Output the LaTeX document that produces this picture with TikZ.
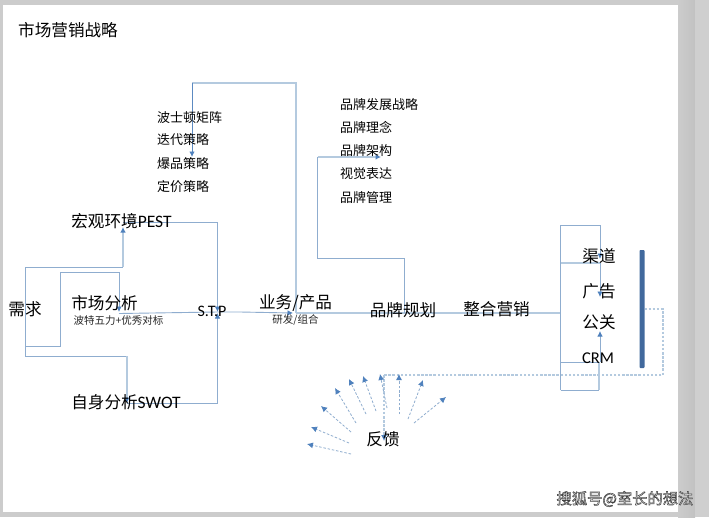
\documentclass[tikz,border=0pt]{standalone}
\usepackage{fontspec}
\setmainfont{Noto Sans CJK SC}
\newfontfamily\lat{Carlito}
\usetikzlibrary{arrows.meta}
\definecolor{ln}{HTML}{8FADCF}
\definecolor{lnl}{HTML}{B4CADF}
\definecolor{tip}{HTML}{4F81BD}
\definecolor{barc}{HTML}{41699D}
\tikzset{
 x=1pt,y=-1pt,
 big/.style={inner sep=0,anchor=center,font=\fontsize{16.6}{17}\selectfont,text=black},
 mid/.style={inner sep=0,anchor=west,font=\fontsize{13}{14}\selectfont,text=black},
 tiny/.style={inner sep=0,anchor=center,font=\fontsize{10.5}{11}\selectfont,text=black!85},
 conn/.style={draw=ln,line width=0.9pt},
 connl/.style={draw=lnl,line width=1.3pt},
 arr/.style={-{Latex[length=5.5pt,width=5.5pt,color=tip]}},
 dashline/.style={draw=lnl,line width=1.1pt,dash pattern=on 2.5pt off 1.6pt},
 fan/.style={draw=ln,line width=0.8pt,dash pattern=on 2.5pt off 1.8pt,-{Latex[length=6pt,width=6pt,color=tip]}},
}
\begin{document}
\begin{tikzpicture}
\useasboundingbox (0,0) rectangle (709,517);
\fill[black!20] (0,0) rectangle (709,517);
\shade[left color=black!20,right color=black!24] (678,0) rectangle (695,517);
\fill[black!19] (695,0) rectangle (709,517);
\fill[white] (3,5) rectangle (678,512);
% ports
\coordinate (nA) at (25,267); \coordinate (nB) at (25,346); \coordinate (nC) at (25,356);
\coordinate (pestIn) at (123,227); \coordinate (pestOut) at (123,222.5);
\coordinate (mktIn) at (119,312); \coordinate (mktOut) at (119,313.5);
\coordinate (swotIn) at (127,403); \coordinate (stpT) at (217.5,312); \coordinate (stpB) at (217.5,313);
\coordinate (bizL) at (293,313); \coordinate (bizU) at (296,313);
\coordinate (boston) at (192,157); \coordinate (brandU) at (404.5,313);
\coordinate (archi) at (381,157); \coordinate (boxL) at (560.5,313);
\coordinate (chanIn) at (600,259); \coordinate (adIn) at (600,297); \coordinate (prIn) at (600,331);
% left
\draw[conn] (nC) -- (nA) -- (123,267);
\draw[connl,arr] (123,267) -- (pestIn);
\draw[conn,arr] (nB) -- (60,346) -- (60,272.5) -- (119,272.5) -- (mktIn);
\draw[conn] (nC) -- (127,356);
\draw[connl,arr] (127,356) -- (swotIn);
\draw[conn,arr] (pestOut) -- (217.5,222.5) -- (stpT);
\draw[conn,arr] (swotIn) -- (217.5,403) -- (stpB);
\draw[conn] (mktOut) -- (stpT);
\draw[conn,arr] (stpT) -- (240,312) -- (bizL);
% business
\draw[connl] (bizU) -- (296,83) -- (192,83);
\draw[draw=tip!80!ln,line width=.9pt,arr] (192,83) -- (boston);
\draw[connl] (bizU) -- (brandU);
\draw[conn] (brandU) -- (404.5,258) -- (317.5,258) -- (317.5,157);
\draw[connl,arr] (317.5,157) -- (archi);
\draw[connl] (brandU) -- (boxL);
% box
\draw[conn,arr] (560.5,390) -- (560.5,225.5) -- (600,225.5) -- (chanIn);
\draw[connl] (560.5,263) -- (600,263);
\draw[conn,arr] (600,263) -- (adIn);
\draw[conn] (560.5,362) -- (600,362);
\draw[conn,arr] (600,362) -- (prIn);
\draw[conn] (560.5,390) -- (599,390);
\draw[connl] (599,390) -- (599,362);
% bar
\fill[barc,rounded corners=.8pt] (639.5,250) rectangle (644.5,368);
% feedback
\draw[dashline] (644.5,309) -- (663,309) -- (663,375) -- (384,375);
\draw[dashline,-{Latex[length=6pt,width=6pt,color=tip]}] (384,375) -- (384,441);
\foreach \a/\b/\c/\d in {351/454/307/444,349/443/311/427,351/432/321/406,356/423/335/388,366/414/349/379,376/411/363/376,387/408/380/374,399/414/399/374,408/419/423/380,414/423/446/397}
  \draw[fan] (\a,\b) -- (\c,\d);
% texts
\node[big] (title) at (68,30) {市场营销战略};
\node[big] (need) at (25,309) {需求};
\node[big] (pest) at (121.5,221) {宏观环境{\lat\fontsize{17.5}{18}\selectfont PEST}};
\node[big] (market) at (104.5,303) {市场分析};
\node[tiny] (five) at (118.5,321) {波特五力+优秀对标};
\node[big,font=\fontsize{16}{16}\selectfont\lat] (stp) at (212,311) {S.T.P};
\node[big] (swot) at (126,402) {自身分析{\lat\fontsize{17.5}{18}\selectfont SWOT}};
\node[big] (biz) at (295.5,303) {业务/产品};
\node[tiny] (rd) at (295.5,320) {研发/组合};
\node[big] (brand) at (403,310) {品牌规划};
\node[big] (imc) at (496.5,309) {整合营销};
\node[big] (chan) at (599,256) {渠道};
\node[big] (ad) at (599,291) {广告};
\node[big] (pr) at (599,322) {公关};
\node[big,font=\fontsize{16.5}{17}\selectfont\lat] (crm) at (598,358) {CRM};
\node[big] (fb) at (383,439) {反馈};
\node[mid] (l1) at (157,118) {波士顿矩阵};
\node[mid] (l2) at (157,140) {迭代策略};
\node[mid] (l3) at (157,164) {爆品策略};
\node[mid] (l4) at (157,187) {定价策略};
\node[mid] (r1) at (340,105) {品牌发展战略};
\node[mid] (r2) at (340,127) {品牌理念};
\node[mid] (r3) at (340,151) {品牌架构};
\node[mid] (r4) at (340,174) {视觉表达};
\node[mid] (r5) at (340,198) {品牌管理};
% watermark
\node[inner sep=0,font=\fontsize{15.3}{16}\selectfont,text=white] (mark) at (625,499) {\special{pdf:code 2 Tr 0.5 w 0.25 G}搜狐号@室长的想法\special{pdf:code 0 Tr}};
\end{tikzpicture}
\end{document}
